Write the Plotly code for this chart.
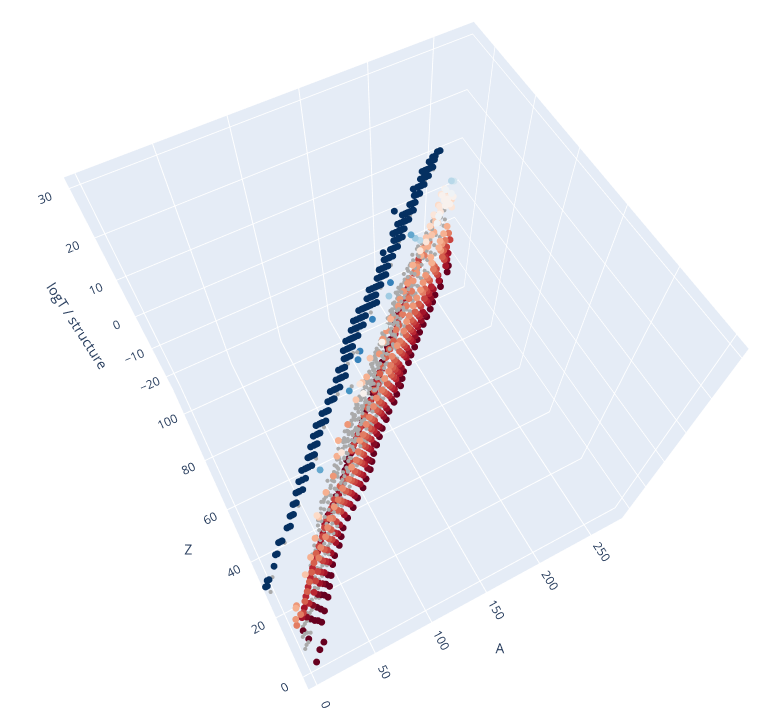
import plotly.graph_objects as go

# stable line
stable_Z=[1,1,2,2,4,6,6,8,8,8,10,10,10,12,12,12,14,14,14,16,16,16,16,18,18,18,20,20,20,20,20,22,22,22,22,22,24,24,24,24,26,26,26,26,28,28,28,28,28,30,30,30,30,32,32,32,32,34,34,34,34,34,36,36,36,36,36,38,38,38,38,40,40,40,40,42,42,42,42,42,42,44,44,44,44,44,44,44,46,46,46,46,46,46,48,48,48,48,48,48,50,50,50,50,50,50,50,50,50,50,52,52,52,52,52,52,54,54,54,54,54,54,54,56,56,56,56,56,56,58,58,58,58,60,60,60,60,60,62,62,62,62,62,64,64,64,64,64,64,66,66,66,66,66,66,66,68,68,68,68,68,68,70,70,70,70,70,70,70,72,72,72,72,72,72,74,74,74,74,76,76,76,76,76,76,78,78,78,78,78,80,80,80,80,80,80,80,82,82,82,82,83,83,84,84]
stable_A=[1,2,3,4,9,12,13,16,17,18,23,24,25,27,28,29,31,32,33,35,36,37,39,39,41,43,43,45,46,47,49,49,50,51,52,53,53,55,56,57,57,59,60,61,61,63,64,65,67,67,69,70,71,73,75,76,77,77,79,80,81,83,83,85,86,87,89,87,89,90,91,93,94,95,97,95,97,98,99,100,101,99,101,102,103,104,105,107,105,107,108,109,111,113,109,111,113,114,115,117,115,117,118,119,120,121,122,123,125,127,123,125,126,127,128,129,127,129,131,132,133,134,135,135,137,138,139,140,141,139,141,143,145,145,146,148,149,151,147,152,153,155,157,157,158,159,160,161,163,159,161,163,164,165,166,167,165,167,169,170,171,173,171,173,174,175,176,177,179,168,179,180,181,182,183,185,186,187,189,187,190,191,192,193,195,195,197,198,199,201,199,201,202,203,204,205,207,207,209,210,211,211,213,216,218]
STABLE_LOGT=26.5

# short-lived, one row per element
row_Z=[6,8,10,12,14,16,18,20,22,24,26,28,30,32,34,36,38,40,42,44,46,48,50,52,54,56,58,60,62,64,66,68,70,72,74,76,78,80,82,84,86,88,90,92,94,96,98,100]
row_A=[
[11,13,14,16,18,20,22],[15,17,19,21,23,25,27],[19,21,25,27,29,31,33],[23,25,29,31,33,35,37],
[27,29,33,35,37,39,41],[31,33,37,39,41,43,45],[35,37,41,43,45,47,49],[39,41,47,49,51,53,55],
[44,46,51,53,55,57,59],[48,50,55,57,59,61,63],[52,54,61,63,65,67,69],
[53,55,58,60,66,68,70,72,74,76],[58,60,63,65,72,74,76,78,80,82],[65,67,70,72,79,81,83,85,87,89],
[69,72,75,77,84,86,88,90,92,94],[76,78,81,83,90,92,94,96,98,100],[80,82,85,87,94,96,98,100,102,104],
[84,86,89,91,98,100,102,104,106,108],[88,90,93,95,103,105,107,109,111,113],[94,96,99,101,108,110,112,114,116,118],
[98,100,103,105,113,115,117,119,121,123],[104,106,109,111,119,121,123,125,127,129],[108,111,114,116,124,126,128,130,132,134],
[114,116,119,121,131,133,135,137,139,141],[118,121,124,127,136,138,140,142,144,146],[124,126,130,133,142,144,146,148,150,152],
[130,132,135,137,146,148,150,152,154,156],[134,136,139,141,150,152,154,156,158,160],[139,141,144,147,157,159,161,163,165,167],
[144,146,150,153,162,164,166,168,170,172],[149,152,156,159,168,170,172,174,176,178],[154,157,161,164,173,175,177,179,181,183],
[159,162,166,169,178,180,182,184,186,188],[164,167,171,175,184,186,188,190,192,194],[169,172,177,181,190,192,194,196,198,200],
[174,178,182,186,196,198,200,202,204,206],[179,183,187,191,201,203,205,207,209,211],[184,188,192,195,206,208,210,212,214,216],
[190,193,197,201,214,216,218,220,222,224],[196,199,202,204,216,218,220,222,224,226],[201,204,207,210,226,228,230,232,234,236],
[209,212,216,219,230,232,234,236,238,240],[214,218,222,225,236,238,240,242],[222,226,230,233,242,244,246],
[230,234,238,242,246,248],[236,240,244,247,250,252],[242,245,248,250,254],[247,250,254,256]]
row_T=[
[-3,-1,-4,-6,-8,-9,-11],[-3,0,-2,-4,-6,-8,-10],[-2,0,-2,-4,-5,-6,-8],[-2,0,-1,-3,-4,-5,-7],
[-2,0,-1,-2,-3,-5,-6],[-2,0,1,-1,-2,-3,-5],[-2,0,1.5,0,-1,-3,-5],[-3,-1,1.5,0,-1,-3,-5],
[-3,-1,1.5,0,-2,-3,-5],[-3,-1,1.5,1,-1,-3,-5],[-3,-1,2,0,-1,-3,-5],
[-6,-5,-3,-1,1,0,-1,-2,-3,-5],[-6,-5,-3,-1,1.5,0,-1,-2,-3.5,-5],[-6,-5,-3,0,1,0,-1,-2,-3,-5],
[-6,-4,-3,-1,2,0,-1,-2,-3,-5],[-6,-5,-2,-1,1,0,-1,-2,-4,-5],[-6,-5,-3,-1,1,0,-1,-3,-4,-5],
[-6,-5,-3,0,2,0,-1,-2,-3,-5],[-5,-5,-3,-1,1,0,-1,-2,-4,-5],[-6,-5,-2,-1,1.5,0,-1,-2,-3.5,-5],
[-6,-5,-3,-1,1,0,-1,-3,-4,-5],[-6,-4,-3,0,1.5,0,-1,-2,-3.5,-5],[-6,-5,-2.5,0,1.5,0,-1,-2,-3.5,-5],
[-6,-5,-3,-1,1,0,-1,-2,-3.5,-5],[-6,-5,-3,0,2,0,-1,-2,-3,-5],[-6,-5,-3,-1,1.5,0,-1,-2,-4,-5],
[-5,-5,-2,0,1,0,-1,-2,-3,-5],[-6,-4,-2,0,1.5,0,-1,-2,-3.5,-5],[-6,-5,-3,0,2,0,-1,-2,-3,-5],
[-6,-4,-2,0,1,0,-1,-2,-3.5,-5],[-5,-4,-2,0,1.5,0,-1,-2,-3,-5],[-5,-4,-2,1,2,0,-1,-2,-3.5,-5],
[-5,-4,-2,0,1.5,0,-1,-2,-3,-5],[-5,-4,-1,1,2,0,-1,-2,-3.5,-5],[-5,-3,-1,1,2,0,-1,-3,-4,-5],
[-4,-3,-1,1,2,1,-1,-2,-3,-5],[-4,-3,0,1,2,0,-1,-2,-3.5,-5],[-4,-3,0,2,2,1,0,-2,-3,-5],
[-4,-2,0,2,3,1,0,-1,-3,-5],[-3,-2,1,2,3,1,0,-1,-3,-5],[-3,-1,1,3,3,2,0,-1,-3,-5],
[-2,-1,1,3,3,2,0,-2,-3,-5],[-1,0,2,4,3,1,-1,-3],[0,1,3,5,3,1,-1],
[3,4,6,7,7,6],[4,6,7,7,8,7],[5,7,8,6,5],[6,7,5,4]]

# isolated long-lived and low-mass points
lone_Z=[1,3,4,4,3,4,5,5,6,7,28,43,49,51,58,62,67,66,80,81,81,97,96,88,90,92,86,84,60,48,36,24,30,34,38,42,46,50,52,54,56,60,62,64,66,68,70,72,74,76,78,80,82,84,88,90,92,94,20,24,16,12]
lone_A=[7,13,18,9,6,7,11,8,10,11,58,97,111,115,133,147,157,157,192,197,201,253,249,226,230,234,214,206,142,112,80,47,60,70,78,84,96,108,114,118,124,132,142,148,150,156,162,166,174,178,184,190,194,200,214,220,226,232,40,48,32,24]
lone_T=[-22,-20,-19,-12,1,2,1,-8,3,2,14,15,16,16,16,9,12,16,14,12,11,10,11,8,8,7,6,6,7,7,6,5,3,2,3,3,2,4,6,4,3,4,2,3,2,2,3,1.5,2,2,2,2,1.5,3,3,4,5,6,3,4,3,4]

# grey structure cloud, one row per element
grey_Z=[2,4,6,8,10,12,14,16,18,20,22,24,26,28,30,32,34,36,38,40,42,44,46,48,50,52,54,56,58,60,62,64,66,68,70,72,74,76,78,80,82,84,86,88,90,92,94,96,98,100]
grey_A=[
[4,6,8],[6,8,10,12],[9,11,13,15,17],[12,15,17,19,21],[16,18,20,22,25,27],[20,22,24,27,29,31],[23,25,28,30,32,35,37],[27,29,31,34,36,38,41],[31,33,36,38,40,43,45],[35,38,40,43,45,47,49],
[39,42,44,47,49,51,54],[43,46,49,52,54,56,59],[47,50,53,56,58,60,63],[49,52,55,58,60,62,65,68],[54,57,60,63,65,67,70,73],[59,62,65,68,71,73,76,79],[64,67,70,73,76,78,81,84],[70,73,76,79,82,84,87,90],[74,77,80,83,86,88,91,94],[78,81,84,87,90,92,95,98],
[82,85,88,91,94,96,99,102,105],[88,91,94,97,100,102,105,108,111],[92,95,98,101,104,106,109,112,115],[98,101,104,107,110,112,115,118,121],[103,106,109,112,115,118,121,124,127],[108,111,114,117,120,123,126,129,132],[112,115,118,121,124,127,130,133,136],[118,121,124,127,130,133,136,139,142],[124,127,130,133,136,139,142,145,148],[128,131,134,137,140,143,146,149,152],
[133,136,139,142,145,148,151,154,157],[138,141,144,147,150,153,156,159,162],[143,146,149,152,155,158,161,164,167],[148,151,154,157,160,163,166,169,172],[153,156,159,162,165,168,171,174,177],[158,161,164,167,170,173,176,179,182],[163,166,169,172,175,178,181,184,187],[168,171,174,177,180,183,186,189,192],[173,176,179,182,185,188,191,194,197],[178,181,184,187,190,193,196,199,202],
[184,187,190,193,196,199,202,205,208],[190,193,196,199,202,205,208,211,214],[195,198,201,205,208,212,216,220],[203,206,210,214,218,222,226],[208,212,216,220,224,228,232],[216,220,224,228,232,236],[226,230,234,238,242],[234,238,242,246],[240,244,248],[246,250,254]]
grey_T=[
[-12,-10,-9],[-9,-8,-8,-9],[-8,-7,-6,-7,-6],[-7,-6,-7,-6,-5],[-6,-5,-6,-5,-5,-6],[-6,-5,-5,-4,-5,-4],[-5,-4,-5,-3,-5,-4,-3],[-5,-3,-4,-3,-4,-3,-4],[-4,-3,-2,-4,-3,-2,-3],[-3,-2,-3,-2,-1,-3,-2],
[-3,-1,-2,-1,-3,-1,-2],[-3,-1,-2,0,-2,-1,-3],[-2,-1,0,-2,-1,0,-1],[-3,-1,0,-1,-2,0,-1,-2],[-2,0,-1,1,-1,0,-2,-1],[-2,-1,1,0,-1,1,0,-2],[-3,-1,0,1,-1,0,1,-1],[-2,0,1,-1,0,2,0,-1],[-2,-1,0,1,2,0,-1,0],[-3,-1,1,0,2,1,-1,0],
[-2,-1,0,2,1,0,2,-1,-2],[-3,-1,1,0,2,1,-1,0,-2],[-2,0,1,-1,2,0,1,-1,-2],[-3,-1,0,2,1,-1,2,0,-2],[-2,-1,1,0,2,1,0,-1,-2],[-3,0,1,-1,2,0,2,-1,-2],[-2,-1,0,2,1,2,0,-1,-2],[-3,-1,1,0,2,1,-1,0,-2],[-2,0,-1,1,2,0,2,-1,-2],[-3,-1,0,2,1,2,0,-1,-2],
[-2,0,1,-1,2,1,0,-1,-2],[-3,-1,1,0,2,0,1,-1,-2],[-2,-1,0,2,1,2,0,-1,-2],[-3,0,1,-1,2,0,1,-1,-2],[-2,-1,1,0,2,1,0,-1,-2],[-3,-1,0,2,1,0,2,-1,-2],[-2,0,1,-1,2,1,0,-1,-2],[-2,-1,0,1,2,0,1,-1,-2],[-2,0,1,2,1,2,0,-1,-2],[-2,-1,1,0,2,1,2,0,-2],
[-1,0,1,2,1,2,1,0,-1],[-1,0,2,1,2,1,2,0,-1],[0,1,2,1,3,2,1,0],[0,1,2,3,2,1,0],[1,2,3,2,3,1,0],[1,2,3,4,2,1],[2,3,4,3,2],[3,4,3,2],[3,4,3],[3,4,3]]
odd_Z=[31,35,39,41,43,45,47,49,51,53,55,57,59,61,63,65,67,69,71,73,75,77,79,81]
odd_A=[[56,60,64,68,72],[66,70,74,78,82],[76,80,84,88,92],[80,84,88,92,96,100],[84,88,92,96,100,104],[90,94,98,102,106,110],[94,98,102,106,110,114],[100,104,108,112,116,120],[105,109,113,117,121,125],[110,114,118,122,126,130],[116,120,124,128,132,136],[121,125,129,133,137,141],[126,130,134,138,142,146],[131,135,139,143,147,151],[136,140,144,148,152,156],[141,145,149,153,157,161],[146,150,154,158,162,166],[151,155,159,163,167,171],[156,160,164,168,172,176],[161,165,169,173,177,181],[166,170,174,178,182,186],[171,175,179,183,187,191],[176,180,184,188,192,196],[181,185,189,193,197,201]]
odd_T=[[-1,0,-2,1,-1],[0,-1,1,-2,0],[-1,1,0,-1,1],[-2,0,1,-1,2,0],[-1,1,0,2,-1,-2],[-2,1,0,-1,2,0],[-1,0,2,1,-1,-2],[-2,0,1,2,0,-1],[-1,2,0,1,-1,-2],[-2,1,0,2,1,-1],[-1,0,2,1,0,-2],[-2,1,2,0,-1,-1],[-1,0,1,2,0,-2],[-2,1,0,2,-1,0],[-1,2,1,0,1,-2],[-2,0,2,1,-1,-1],[-1,1,0,2,0,-2],[-2,0,1,2,1,-1],[-1,1,2,0,-1,-2],[-2,0,1,2,0,-1],[-1,1,0,2,1,-2],[-1,0,2,1,0,-1],[-1,1,2,0,1,-1],[0,1,2,1,0,-1]]
near_Z=[1,3,7,9,11,15,17,19,23,25,29,31,35,37,41,43,47,51,53,55,59,61,65,67,71,73,77,79,83,41,50,60]
near_A=[2,6,14,19,26,34,38,42,54,58,66,72,82,88,96,102,110,124,130,136,144,151,162,168,178,184,194,200,212,97,112,155]
near_T=[24,25,25,24,25,24,25,25,24,25,24,25,24,25,24,24,25,24,24,25,24,24,25,24,25,24,24,25,24,18,17,19]

rdbu=['rgb(103,0,31)','rgb(178,24,43)','rgb(214,96,77)','rgb(244,165,130)','rgb(253,219,199)','rgb(247,247,247)','rgb(209,229,240)','rgb(146,197,222)','rgb(67,147,195)','rgb(33,102,172)','rgb(5,48,97)']
rs=[[i/10,c] for i,c in enumerate(rdbu)]

def flat(rows): return [v for r in rows for v in r]
def rep(zs,rows): return [z for z,r in zip(zs,rows) for _ in r]

fig=go.Figure()
fig.add_trace(go.Scatter3d(x=flat(grey_A)+flat(odd_A)+near_A,y=rep(grey_Z,grey_A)+rep(odd_Z,odd_A)+near_Z,z=flat(grey_T)+flat(odd_T)+near_T,mode='markers',marker=dict(size=2.4,color='rgb(170,170,170)')))
fig.add_trace(go.Scatter3d(x=stable_A,y=stable_Z,z=[STABLE_LOGT for _ in stable_A],mode='markers',marker=dict(size=4,color='rgb(5,48,97)')))
fig.add_trace(go.Scatter3d(x=flat(row_A)+lone_A,y=rep(row_Z,row_A)+lone_Z,z=flat(row_T)+lone_T,mode='markers',
    marker=dict(size=4,color=flat(row_T)+lone_T,colorscale=rs,cmin=-5,cmax=20)))
fig.update_layout(template='plotly',width=752,height=703,margin=dict(l=0,r=0,t=0,b=0),showlegend=False,
 scene=dict(xaxis=dict(title='A',range=[-7,281],dtick=50),yaxis=dict(title='Z',range=[-4,111],dtick=20),zaxis=dict(title='logT / structure',range=[-25,32],dtick=10),
 camera=dict(eye=dict(x=-0.440,y=-0.875,z=1.879),center=dict(x=0.044,y=0.101,z=-0.124),up=dict(x=0.591,y=1.104,z=1))))
fig.write_html('out.html')
